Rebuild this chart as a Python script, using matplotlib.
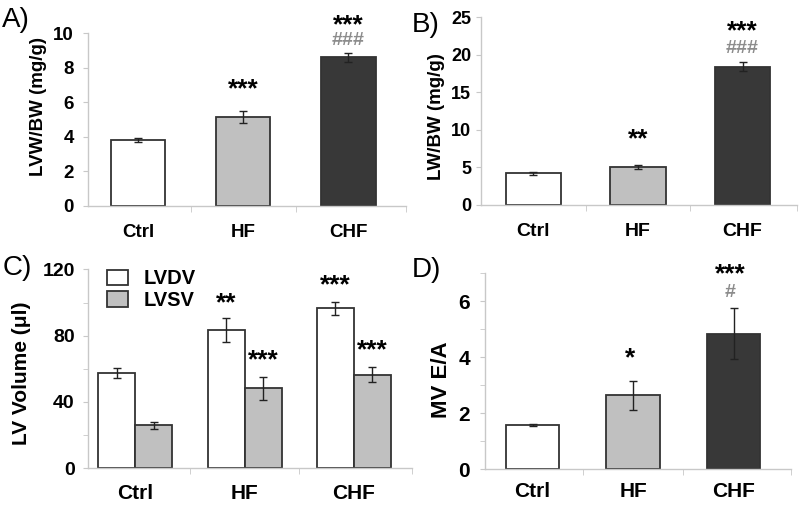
import matplotlib.pyplot as plt
import numpy as np

plt.rcParams['font.family'] = ['Liberation Sans', 'DejaVu Sans']

groups = ['Ctrl', 'HF', 'CHF']
bar_colors = ['white', '#c0c0c0', '#383838']

# A) LVW/BW
lvw = [3.8, 5.15, 8.6]
lvw_err = [0.1, 0.37, 0.28]
# B) LW/BW
lw = [4.22, 5.1, 18.4]
lw_err = [0.2, 0.28, 0.6]
# C) LV volumes
lvdv = [57.7, 83.6, 96.5]
lvdv_err = [3.0, 7.3, 4.0]
lvsv = [25.9, 48.2, 56.5]
lvsv_err = [2.2, 6.7, 4.4]
# D) MV E/A
mvea = [1.59, 2.64, 4.85]
mvea_err = [0.03, 0.53, 0.9]

edge = '#333333'
spine_c = '#c8c8c8'
hash_c = '#8c8c8c'

fig = plt.figure(figsize=(8, 5.14), dpi=100)


def style(ax, xlim, ylim, major, minor, ylabel, lab_xy, tick_fs, tick_pad, cat_fs, cat_pad, lab_fs):
    ax.set_xlim(xlim)
    ax.set_ylim(ylim)
    for s in ['top', 'right']:
        ax.spines[s].set_visible(False)
    for s in ['left', 'bottom']:
        ax.spines[s].set_color(spine_c)
        ax.spines[s].set_linewidth(1.0)
    ax.set_yticks(major)
    ax.set_yticklabels([str(v) for v in major], fontsize=tick_fs, fontweight='bold')
    ax.set_yticks(minor, minor=True)
    ax.tick_params(axis='y', which='both', color=spine_c, length=3.5, pad=tick_pad)
    ax.set_xticks([0, 1, 2])
    ax.set_xticklabels(groups, fontsize=cat_fs, fontweight='bold')
    ax.tick_params(axis='x', which='major', length=0, pad=cat_pad)
    ax.set_xticks([0.5, 1.5, xlim[1]], minor=True)
    ax.tick_params(axis='x', which='minor', color=spine_c, length=4, direction='out')
    ax.set_ylabel(ylabel, fontsize=lab_fs, fontweight='bold', va='center')
    ax.yaxis.set_label_coords(*lab_xy)


def stars(ax, xpos, ypos, s, size=19, color='black'):
    ax.text(xpos, ypos, s, ha='center', va='center', fontsize=size,
            fontweight='bold', color=color, clip_on=False)


x = np.arange(3)

# A
axA = fig.add_axes([0.11, 0.5998, 0.3975, 0.3354])
axA.bar(x, lvw, 0.52, color=bar_colors, edgecolor=edge, linewidth=1.3, zorder=2)
axA.errorbar(x, lvw, yerr=lvw_err, fmt='none', ecolor='#222222', elinewidth=1, capsize=3, zorder=3)
style(axA, (-0.476, 2.55), (0, 10), [0, 2, 4, 6, 8, 10], [], 'LVW/BW (mg/g)',
      (-0.157, 0.578), 13.5, 6.5, 13.5, 13, 13.5)
stars(axA, 1, 6.75, '***')
stars(axA, 2, 10.45, '***')
stars(axA, 2, 9.6, '###', size=14, color=hash_c)
fig.text(0.003, 0.962, 'A)', fontsize=20, va='center', ha='left')

# B
axB = fig.add_axes([0.60125, 0.6012, 0.395, 0.3651])
axB.bar(x, lw, 0.53, color=bar_colors, edgecolor=edge, linewidth=1.3, zorder=2)
axB.errorbar(x, lw, yerr=lw_err, fmt='none', ecolor='#222222', elinewidth=1, capsize=3, zorder=3)
style(axB, (-0.5, 2.52), (0, 25), [0, 5, 10, 15, 20, 25], [], 'LW/BW (mg/g)',
      (-0.141, 0.47), 13, 3.6, 14, 13, 13.5)
stars(axB, 1, 8.7, '**')
stars(axB, 2, 23.2, '***')
stars(axB, 2, 20.8, '###', size=14, color=hash_c)
fig.text(0.515, 0.952, 'B)', fontsize=20, va='center', ha='left')

# C
axC = fig.add_axes([0.11, 0.0889, 0.405, 0.387])
bw = 0.338
axC.bar(x - bw / 2, lvdv, bw, color='white', edgecolor=edge, linewidth=1.3, zorder=2, label='LVDV')
axC.bar(x + bw / 2, lvsv, bw, color='#c0c0c0', edgecolor=edge, linewidth=1.3, zorder=2, label='LVSV')
axC.errorbar(x - bw / 2, lvdv, yerr=lvdv_err, fmt='none', ecolor='#222222', elinewidth=1, capsize=3, zorder=3)
axC.errorbar(x + bw / 2, lvsv, yerr=lvsv_err, fmt='none', ecolor='#222222', elinewidth=1, capsize=3, zorder=3)
style(axC, (-0.43, 2.53), (0, 120), [0, 40, 80, 120], [20, 60, 100], 'LV Volume (\u03bcl)',
      (-0.204, 0.479), 14, 6, 15, 11, 15)
stars(axC, 1 - bw / 2, 99.5, '**')
stars(axC, 1 + bw / 2, 65.3, '***')
stars(axC, 2 - bw / 2, 110.5, '***')
stars(axC, 2 + bw / 2, 71, '***')
axC.legend(loc='upper left', bbox_to_anchor=(0.059, 1.0), frameon=False,
           prop={'size': 14.5, 'weight': 'bold'}, handlelength=1.05, handleheight=0.8,
           handletextpad=0.75, labelspacing=0.12, borderaxespad=0, borderpad=0)
fig.text(0.003, 0.478, 'C)', fontsize=20, va='center', ha='left')

# D
axD = fig.add_axes([0.606, 0.0869, 0.3825, 0.3813])
axD.bar(x, mvea, 0.53, color=bar_colors, edgecolor=edge, linewidth=1.3, zorder=2)
axD.errorbar(x, mvea, yerr=mvea_err, fmt='none', ecolor='#222222', elinewidth=1, capsize=3, zorder=3)
style(axD, (-0.475, 2.57), (0, 7), [0, 2, 4, 6], [1, 3, 5, 7], 'MV E/A',
      (-0.14, 0.456), 15, 7, 15, 9, 16)
stars(axD, 0.97, 3.95, '*')
stars(axD, 1.97, 6.97, '***')
stars(axD, 1.97, 6.3, '#', size=14, color=hash_c)
fig.text(0.515, 0.475, 'D)', fontsize=20, va='center', ha='left')

fig.savefig('out.png', dpi=100)
